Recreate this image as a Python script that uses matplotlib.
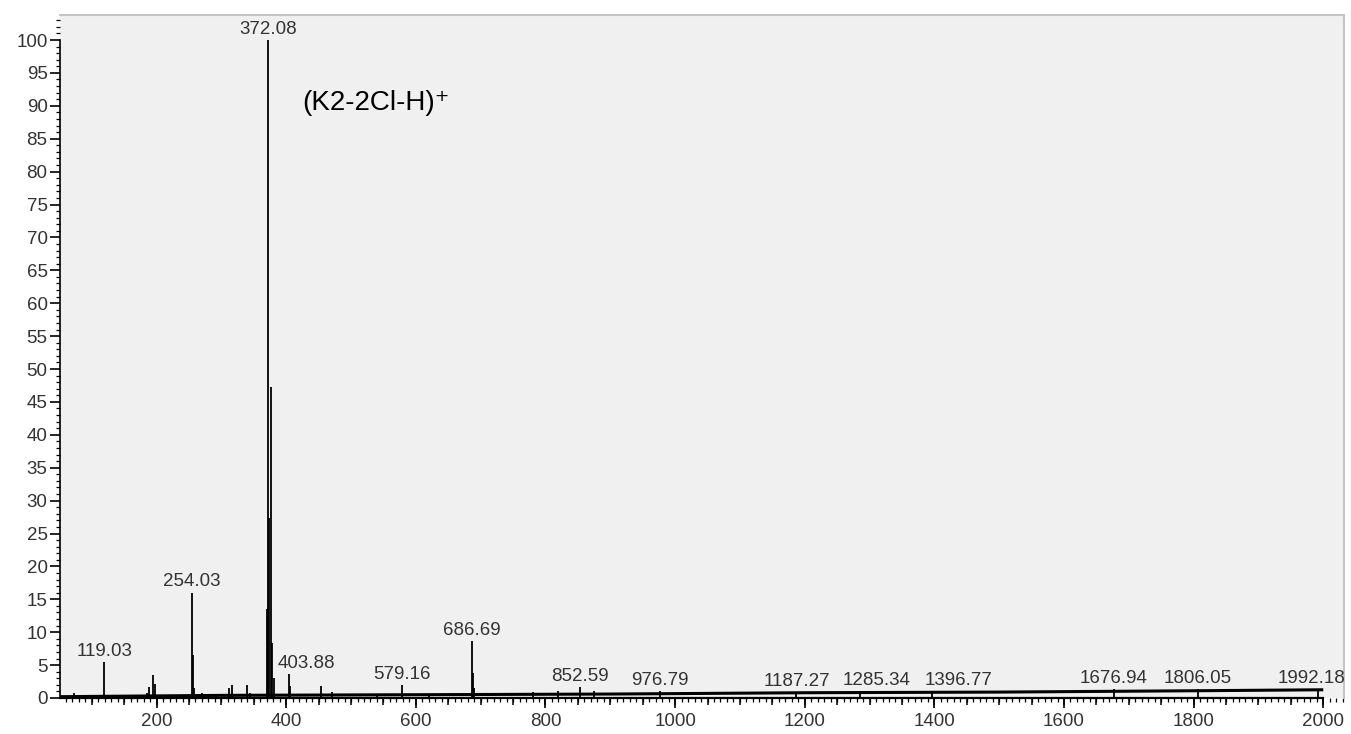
import numpy as np
import matplotlib
matplotlib.use("Agg")
import matplotlib.pyplot as plt
from matplotlib.ticker import MultipleLocator

plt.rcParams['font.family'] = ['Liberation Sans', 'DejaVu Sans']

# stick spectrum (m/z, relative intensity %)
peak_mz = [72, 119.03, 185, 189, 195, 197, 254.03, 255.5, 258, 270, 312, 316, 340, 344,
           371.0, 372.08, 373.5, 376.0, 378.0, 381, 403.88, 405.5, 454, 470, 540, 579.16,
           620, 686.69, 688.2, 690, 780, 820, 852.59, 875, 976.79, 1187.27, 1285.34,
           1396.77, 1676.94, 1806.05, 1992.18]
peak_int = [0.8, 5.5, 0.8, 1.7, 3.5, 2.2, 16.0, 6.5, 1.5, 0.7, 1.5, 2.0, 1.9, 0.8,
            13.5, 100.0, 27.4, 47.2, 8.3, 3.0, 3.6, 1.8, 1.8, 0.9, 0.6, 1.9,
            0.6, 8.7, 3.8, 1.5, 0.9, 1.0, 1.6, 1.1, 1.0, 0.8, 1.0,
            1.0, 1.3, 1.3, 1.4]

# noise baseline
base_mz = [50, 300, 600, 900, 1200, 1500, 1800, 2000]
base_int = [0.2, 0.4, 0.5, 0.6, 0.8, 0.9, 1.1, 1.25]

# labelled peaks
label_mz = [119.03, 254.03, 372.08, 403.88, 579.16, 686.69, 852.59, 976.79,
            1187.27, 1285.34, 1396.77, 1676.94, 1806.05, 1992.18]
label_shift = {403.88: 13, 1285.34: 12, 1396.77: 19, 1992.18: -5}

fig = plt.figure(figsize=(13.51, 7.34), dpi=100)
ax = fig.add_axes([60/1351, 36/734, 1284/1351, 683/734])
ax.set_facecolor('#f0f0f0')

ax.plot(base_mz, base_int, color='black', lw=2.2, solid_capstyle='butt')
ax.vlines(peak_mz, 0, peak_int, color='black', lw=1.3)

lookup = dict(zip(peak_mz, peak_int))
for mz in label_mz:
    ax.annotate(f"{mz:.2f}", xy=(mz, lookup[mz]), xytext=(label_shift.get(mz, 0), 4.5),
                textcoords='offset points', ha='center', va='baseline',
                fontsize=13.5, color='#333333')

ax.text(424, 89.4, "(K2-2Cl-H)\u207a", fontsize=20, color='black', ha='left', va='baseline')

ax.set_xlim(51, 2032)
ax.set_ylim(0, 103.8)

ax.xaxis.set_minor_locator(MultipleLocator(10))
ax.set_xticks(np.arange(200, 2001, 200))
ax.yaxis.set_minor_locator(MultipleLocator(1))
ax.set_yticks(np.arange(0, 101, 5))

ax.tick_params(axis='both', which='major', length=7, width=1.2, colors='black',
               labelcolor='#333333', labelsize=13.5)
ax.tick_params(axis='both', which='minor', length=3, width=0.9, colors='black')
ax.tick_params(axis='x', pad=4)
ax.tick_params(axis='y', pad=2)

# medium ticks every 50
sec = ax.secondary_xaxis('bottom')
sec.set_xticks(np.arange(100, 2001, 50))
sec.tick_params(length=5, width=1.1, labelbottom=False)
sec.spines['bottom'].set_visible(False)

ax.spines['left'].set_bounds(0, 100)
ax.spines['bottom'].set_bounds(51, 2000)
ax.spines['left'].set_linewidth(1.2)
ax.spines['bottom'].set_linewidth(1.6)
for s in ('top', 'right'):
    ax.spines[s].set_color('#c4c4c4')
    ax.spines[s].set_linewidth(1.5)

fig.savefig('out.png', dpi=100, facecolor='white')
